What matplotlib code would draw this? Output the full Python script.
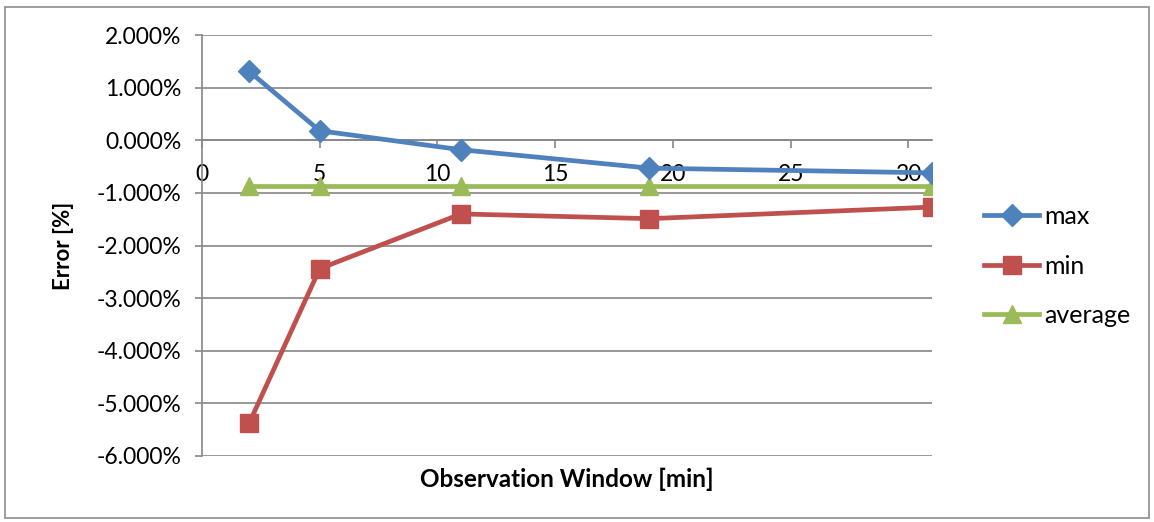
import matplotlib
matplotlib.use("Agg")
import matplotlib.pyplot as plt
from matplotlib.patches import Rectangle
from matplotlib.ticker import FuncFormatter, MultipleLocator

# Data (error in percent)
windows = [2, 5, 11, 19, 31]
err_max = [1.31, 0.18, -0.18, -0.53, -0.62]
err_min = [-5.38, -2.44, -1.40, -1.49, -1.27]
err_avg = [-0.87, -0.87, -0.87, -0.87, -0.87]
series_names = ["max", "min", "average"]
x_label = "Observation Window [min]"
y_label = "Error [%]"

plt.rcParams['font.family'] = ['Lato', 'DejaVu Sans']

W, H = 1154, 522
fig = plt.figure(figsize=(W / 100, H / 100), dpi=100)
fig.patches.append(Rectangle((5 / W, 4 / H), (W - 10) / W, (H - 11) / H,
                             transform=fig.transFigure, fill=False,
                             edgecolor='#8c8c8c', linewidth=1.2))

ax = fig.add_axes([202 / W, 1 - 456 / H, (932 - 202) / W, (456 - 35) / H])

lw = 3.4
ax.plot(windows, err_max, color='#4F81BD', lw=lw, marker='D', ms=11, label=series_names[0], zorder=4)
ax.plot(windows, err_min, color='#C0504D', lw=lw, marker='s', ms=12.5, label=series_names[1], zorder=4)
ax.plot(windows, err_avg, color='#9BBB59', lw=lw, marker='^', ms=13.5, label=series_names[2], zorder=3)

ax.set_xlim(0, 31)
ax.set_ylim(-6, 2)
ax.xaxis.set_major_locator(MultipleLocator(5))
ax.yaxis.set_major_locator(MultipleLocator(1))
ax.yaxis.set_major_formatter(FuncFormatter(lambda v, p: f"{v:.3f}%"))

ax.grid(axis='y', color='#868686', lw=1.2, zorder=0)
ax.set_axisbelow(True)
for s in ['top', 'right']:
    ax.spines[s].set_visible(False)
ax.spines['bottom'].set_position(('data', 0))
ax.spines['bottom'].set_color('#868686')
ax.spines['left'].set_color('#868686')
ax.spines['left'].set_linewidth(1.2)
ax.spines['bottom'].set_linewidth(1.2)

ax.tick_params(axis='x', direction='out', length=6, width=1.2, color='#868686',
               pad=11, labelsize=16.5)
ax.tick_params(axis='y', direction='out', length=5, width=1.2, color='#868686',
               pad=10, labelsize=16.5)

ax.set_xlabel(x_label, fontsize=17.5, fontweight='bold', labelpad=0)
ax.xaxis.set_label_coords(0.5, -0.027)
ax.set_ylabel(y_label, fontsize=16, fontweight='bold')
ax.yaxis.set_label_coords(-0.176, 0.5)

fig.legend(loc='center left', bbox_to_anchor=(984 / W, 1 - 266 / H), frameon=False,
           fontsize=18, handlelength=2.2, handletextpad=0.2, labelspacing=1.06,
           borderaxespad=0, borderpad=0)

fig.savefig("out.png", dpi=100)
